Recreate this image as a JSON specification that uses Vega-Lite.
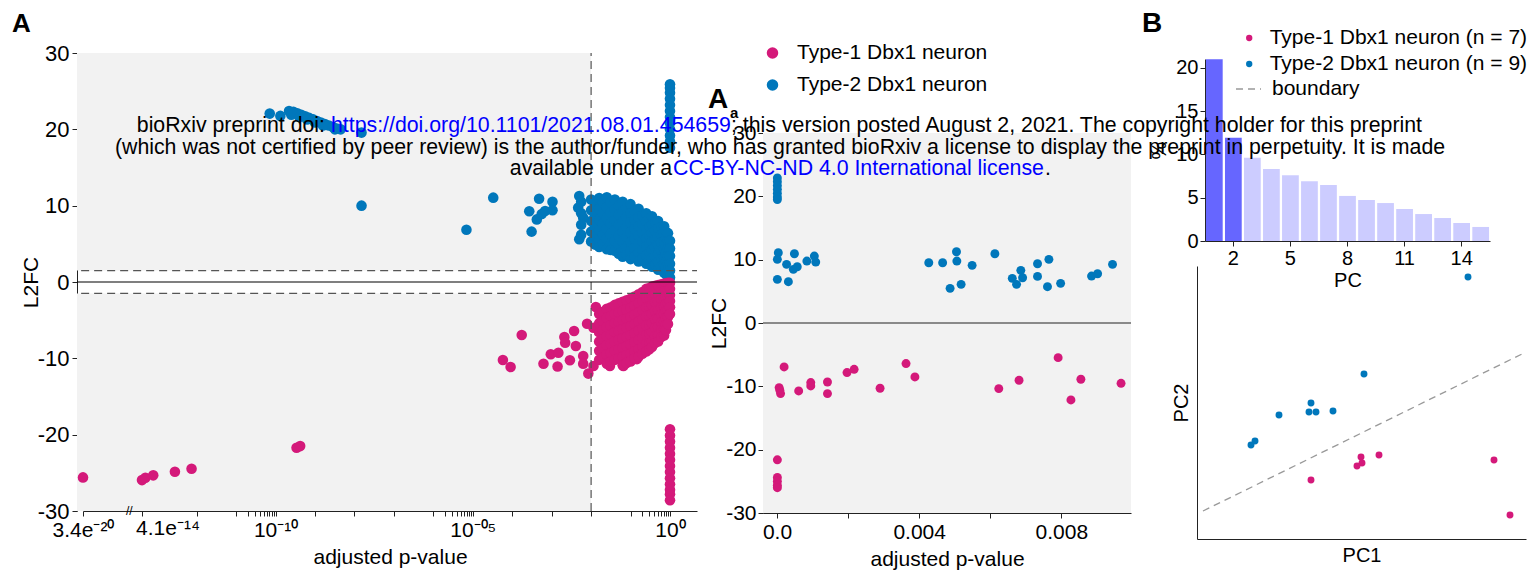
{
"$schema": "https://vega.github.io/schema/vega-lite/v6.json",
"background": "white",
"padding": {"left": 12, "top": 10, "right": 8, "bottom": 8},
"config": {
  "font": "Liberation Sans",
  "view": {"stroke": null},
  "axis": {"labelFontSize": 21, "titleFontSize": 21, "titleFontWeight": "normal", "labelColor": "#000", "titleColor": "#000", "domainColor": "#222", "tickColor": "#222", "grid": false, "tickSize": 5, "labelPadding": 2, "titlePadding": 6},
  "legend": {"labelFontSize": 21, "labelColor": "#000", "padding": 0, "labelLimit": 500},
  "title": {"fontSize": 26, "fontWeight": "bold", "color": "#000", "anchor": "start", "frame": "group", "baseline": "alphabetic"}
},
"bounds": "flush",
"spacing": 66,
"resolve": {"scale": {"color": "independent", "strokeDash": "independent"}, "legend": {"color": "independent", "strokeDash": "independent"}},
"hconcat": [
{
  "width": 620, "height": 458,
  "title": {"text": "A", "dx": -65, "offset": 5},
  "encoding": {
    "x": {"field": "p", "type": "quantitative",
      "scale": {"type": "log", "domain": [3.4e-20, 4.1e-14, 4.84], "range": [6, 65, 620], "nice": false},
      "axis": {"title": "adjusted p-value", "labelFlush": false, "labelOverlap": false, "labelBound": false, "labelFontSize": 21, "labelPadding": 3,
        "values": [3.4e-20, 4.1e-14, 1e-12, 1e-11, 2e-11, 3e-11, 4e-11, 5e-11, 6e-11, 7e-11, 8e-11, 9e-11, 1e-10, 1e-9, 1e-8, 1e-7, 1e-6, 2e-6, 3e-6, 4e-6, 5e-6, 6e-6, 7e-6, 8e-6, 9e-6, 1e-5, 1e-4, 1e-3, 1e-2, 0.1, 0.2, 0.3, 0.4, 0.5, 0.6, 0.7, 0.8, 0.9, 1],
        "labelExpr": "datum.value == 3.4e-20 ? '3.4e\u207b\u00b2\u2070' : datum.value == 1e-10 ? '10\u207b\u00b9\u2070' : datum.value == 1e-5 ? '10\u207b\u2070\u2075' : datum.value == 1 ? '10\u2070' : ''",
        "encode": {
          "ticks": {"update": {"y2": {"signal": "indexof([3.4e-20,4.1e-14,1e-10,1e-5,1], datum.value) >= 0 ? 6 : 3"}}}
        }
      }},
    "y": {"field": "l", "type": "quantitative",
      "scale": {"domain": [-30, 30], "nice": false, "zero": false},
      "axis": {"title": "L2FC", "values": [-30, -20, -10, 0, 10, 20, 30], "labelFontSize": 22, "labelPadding": 3, "titlePadding": -4,
        "labelExpr": "datum.value < 0 ? '-' + (-datum.value) : '' + datum.value"}}
  },
  "layer": [
    {"data": {"values": [{"p": 1e-21, "p2": 0.01, "l": 1.5, "l2": 30}, {"p": 1e-21, "p2": 0.01, "l": -30, "l2": -1.5}]},
     "mark": {"type": "rect", "color": "#f2f2f2", "clip": true},
     "encoding": {"x2": {"field": "p2"}, "y2": {"field": "l2"}}},
    {"data": {"values": [
      {"p":7.1e-11,"l":22.06,"g":2},{"p":1.32e-10,"l":21.76,"g":2},{"p":2.19e-10,"l":22.4,"g":2},{"p":2.5e-10,"l":21.9,"g":2},{"p":2.82e-10,"l":22.3,"g":2},{"p":3.55e-10,"l":22.1,"g":2},{"p":4.0e-10,"l":21.6,"g":2},{"p":4.47e-10,"l":21.9,"g":2},{"p":5.62e-10,"l":21.7,"g":2},{"p":6.3e-10,"l":21.3,"g":2},{"p":7.08e-10,"l":21.5,"g":2},{"p":8.91e-10,"l":21.3,"g":2},{"p":1.0e-9,"l":20.9,"g":2},{"p":1.12e-9,"l":21.1,"g":2},{"p":1.41e-9,"l":20.9,"g":2},{"p":1.6e-9,"l":20.5,"g":2},{"p":1.78e-9,"l":20.7,"g":2},{"p":2.24e-9,"l":20.5,"g":2},{"p":2.82e-9,"l":20.3,"g":2},{"p":3.2e-9,"l":20.0,"g":2},{"p":3.55e-9,"l":20.1,"g":2},{"p":4.47e-9,"l":20.0,"g":2},{"p":1.51e-8,"l":19.57,"g":2},
      {"p":1.51e-8,"l":10.0,"g":2},{"p":6.9e-6,"l":6.85,"g":2},{"p":3.3e-5,"l":11.05,"g":2},{"p":2.7e-4,"l":9.27,"g":2},{"p":3.1e-4,"l":6.6,"g":2},{"p":4.2e-4,"l":8.2,"g":2},{"p":5.6e-4,"l":8.9,"g":2},{"p":4.8e-4,"l":10.9,"g":2},{"p":6.8e-4,"l":9.3,"g":2},{"p":1.05e-3,"l":10.5,"g":2},{"p":1.05e-3,"l":9.4,"g":2},
      {"p":0.0047,"l":9.74,"g":2},{"p":0.005,"l":11.27,"g":2},{"p":0.005,"l":5.6,"g":2},{"p":0.0063,"l":8.43,"g":2},
      {"p":0.0056,"l":10.5,"g":2},{"p":0.0056,"l":9.0,"g":2},{"p":0.0056,"l":7.5,"g":2},{"p":0.0056,"l":6.2,"g":2},
      {"p":0.01,"l":10.8,"g":2},{"p":0.01,"l":9.4,"g":2},{"p":0.01,"l":8.0,"g":2},{"p":0.01,"l":6.6,"g":2},{"p":0.01,"l":5.3,"g":2},
      {"p":0.0126,"l":10.1,"g":2},{"p":0.0126,"l":8.7,"g":2},{"p":0.0126,"l":7.3,"g":2},{"p":0.0126,"l":5.9,"g":2},{"p":0.0126,"l":4.9,"g":2},
      {"p":0.016,"l":11.0,"g":2},{"p":0.016,"l":9.6,"g":2},{"p":0.016,"l":8.2,"g":2},{"p":0.016,"l":6.8,"g":2},{"p":0.016,"l":5.5,"g":2},{"p":0.016,"l":4.6,"g":2},
      {"p":0.02,"l":10.4,"g":2},{"p":0.02,"l":9.0,"g":2},{"p":0.02,"l":7.6,"g":2},{"p":0.02,"l":6.2,"g":2},{"p":0.02,"l":5.0,"g":2},
      {"p":0.025,"l":11.1,"g":2},{"p":0.025,"l":9.8,"g":2},{"p":0.025,"l":8.4,"g":2},{"p":0.025,"l":7.0,"g":2},{"p":0.025,"l":5.7,"g":2},{"p":0.025,"l":4.3,"g":2},
      {"p":0.0316,"l":10.4,"g":2},{"p":0.0316,"l":9.1,"g":2},{"p":0.0316,"l":7.7,"g":2},{"p":0.0316,"l":6.3,"g":2},{"p":0.0316,"l":5.0,"g":2},{"p":0.0316,"l":4.2,"g":2},
      {"p":0.04,"l":10.8,"g":2},{"p":0.04,"l":9.5,"g":2},{"p":0.04,"l":8.1,"g":2},{"p":0.04,"l":6.8,"g":2},{"p":0.04,"l":5.4,"g":2},{"p":0.04,"l":4.1,"g":2},
      {"p":0.05,"l":10.0,"g":2},{"p":0.05,"l":8.8,"g":2},{"p":0.05,"l":7.5,"g":2},{"p":0.05,"l":6.1,"g":2},{"p":0.05,"l":4.8,"g":2},{"p":0.05,"l":3.7,"g":2},
      {"p":0.063,"l":10.5,"g":2},{"p":0.063,"l":9.2,"g":2},{"p":0.063,"l":7.9,"g":2},{"p":0.063,"l":6.6,"g":2},{"p":0.063,"l":5.3,"g":2},{"p":0.063,"l":4.0,"g":2},{"p":0.063,"l":3.3,"g":2},
      {"p":0.079,"l":9.7,"g":2},{"p":0.079,"l":8.5,"g":2},{"p":0.079,"l":7.2,"g":2},{"p":0.079,"l":5.9,"g":2},{"p":0.079,"l":4.6,"g":2},{"p":0.079,"l":3.5,"g":2},
      {"p":0.1,"l":10.2,"g":2},{"p":0.1,"l":9.0,"g":2},{"p":0.1,"l":7.8,"g":2},{"p":0.1,"l":6.5,"g":2},{"p":0.1,"l":5.2,"g":2},{"p":0.1,"l":4.0,"g":2},{"p":0.1,"l":3.0,"g":2},
      {"p":0.126,"l":9.3,"g":2},{"p":0.126,"l":8.1,"g":2},{"p":0.126,"l":6.9,"g":2},{"p":0.126,"l":5.6,"g":2},{"p":0.126,"l":4.4,"g":2},{"p":0.126,"l":3.3,"g":2},
      {"p":0.16,"l":9.6,"g":2},{"p":0.16,"l":8.5,"g":2},{"p":0.16,"l":7.3,"g":2},{"p":0.16,"l":6.1,"g":2},{"p":0.16,"l":5.0,"g":2},{"p":0.16,"l":3.8,"g":2},{"p":0.16,"l":2.7,"g":2},
      {"p":0.2,"l":8.7,"g":2},{"p":0.2,"l":7.6,"g":2},{"p":0.2,"l":6.5,"g":2},{"p":0.2,"l":5.3,"g":2},{"p":0.2,"l":4.2,"g":2},{"p":0.2,"l":3.1,"g":2},
      {"p":0.25,"l":9.0,"g":2},{"p":0.25,"l":7.9,"g":2},{"p":0.25,"l":6.8,"g":2},{"p":0.25,"l":5.7,"g":2},{"p":0.25,"l":4.6,"g":2},{"p":0.25,"l":3.5,"g":2},{"p":0.25,"l":2.4,"g":2},
      {"p":0.3,"l":8.3,"g":2},{"p":0.3,"l":7.2,"g":2},{"p":0.3,"l":6.1,"g":2},{"p":0.3,"l":5.0,"g":2},{"p":0.3,"l":3.9,"g":2},{"p":0.3,"l":2.8,"g":2},
      {"p":0.35,"l":8.6,"g":2},{"p":0.35,"l":7.5,"g":2},{"p":0.35,"l":6.4,"g":2},{"p":0.35,"l":5.3,"g":2},{"p":0.35,"l":4.2,"g":2},{"p":0.35,"l":3.1,"g":2},{"p":0.35,"l":2.0,"g":2},
      {"p":0.42,"l":7.8,"g":2},{"p":0.42,"l":6.7,"g":2},{"p":0.42,"l":5.6,"g":2},{"p":0.42,"l":4.5,"g":2},{"p":0.42,"l":3.4,"g":2},{"p":0.42,"l":2.3,"g":2},
      {"p":0.5,"l":8.0,"g":2},{"p":0.5,"l":7.0,"g":2},{"p":0.5,"l":5.9,"g":2},{"p":0.5,"l":4.8,"g":2},{"p":0.5,"l":3.7,"g":2},{"p":0.5,"l":2.6,"g":2},{"p":0.5,"l":1.6,"g":2},
      {"p":0.6,"l":7.2,"g":2},{"p":0.6,"l":6.2,"g":2},{"p":0.6,"l":5.2,"g":2},{"p":0.6,"l":4.1,"g":2},{"p":0.6,"l":3.0,"g":2},{"p":0.6,"l":2.0,"g":2},
      {"p":0.71,"l":7.3,"g":2},{"p":0.71,"l":6.3,"g":2},{"p":0.71,"l":5.3,"g":2},{"p":0.71,"l":4.3,"g":2},{"p":0.71,"l":3.2,"g":2},{"p":0.71,"l":2.2,"g":2},{"p":0.71,"l":1.2,"g":2},
      {"p":0.79,"l":6.6,"g":2},{"p":0.79,"l":5.7,"g":2},{"p":0.79,"l":4.7,"g":2},{"p":0.79,"l":3.7,"g":2},{"p":0.79,"l":2.7,"g":2},{"p":0.79,"l":1.8,"g":2},{"p":0.79,"l":1.0,"g":2},
      {"p":0.89,"l":6.4,"g":2},{"p":0.89,"l":5.4,"g":2},{"p":0.89,"l":4.4,"g":2},{"p":0.89,"l":3.4,"g":2},{"p":0.89,"l":2.4,"g":2},{"p":0.89,"l":1.5,"g":2},{"p":0.89,"l":0.8,"g":2},
      {"p":1,"l":5.4,"g":2},{"p":1,"l":4.4,"g":2},{"p":1,"l":3.4,"g":2},{"p":1,"l":2.4,"g":2},{"p":1,"l":1.5,"g":2},{"p":1,"l":0.6,"g":2},
      {"p":1,"l":17.6,"g":2},{"p":1,"l":18.4,"g":2},{"p":1,"l":19.2,"g":2},{"p":1,"l":20.0,"g":2},{"p":1,"l":20.8,"g":2},{"p":1,"l":21.6,"g":2},{"p":1,"l":22.4,"g":2},{"p":1,"l":23.2,"g":2},{"p":1,"l":24.0,"g":2},{"p":1,"l":24.8,"g":2},{"p":1,"l":25.4,"g":2},{"p":1,"l":25.9,"g":2},
      {"p":3.4e-20,"l":-25.6,"g":1},{"p":4.1e-14,"l":-25.95,"g":1},{"p":5.0e-14,"l":-25.65,"g":1},{"p":7.9e-14,"l":-25.33,"g":1},{"p":2.8e-13,"l":-24.86,"g":1},{"p":7.4e-13,"l":-24.47,"g":1},{"p":3.4e-10,"l":-21.72,"g":1},{"p":4.2e-10,"l":-21.5,"g":1},
      {"p":5.8e-5,"l":-10.22,"g":1},{"p":9.1e-5,"l":-11.14,"g":1},{"p":1.74e-4,"l":-6.95,"g":1},{"p":6.2e-4,"l":-10.7,"g":1},{"p":9.5e-4,"l":-9.47,"g":1},{"p":1.48e-3,"l":-9.26,"g":1},{"p":1.41e-3,"l":-11.06,"g":1},{"p":2.1e-3,"l":-7.2,"g":1},{"p":2.2e-3,"l":-7.95,"g":1},{"p":2.9e-3,"l":-10.26,"g":1},{"p":3.7e-3,"l":-6.42,"g":1},{"p":4.1e-3,"l":-8.39,"g":1},{"p":6.3e-3,"l":-9.7,"g":1},{"p":6.3e-3,"l":-10.7,"g":1},{"p":7.9e-3,"l":-5.46,"g":1},{"p":8.5e-3,"l":-12.0,"g":1},{"p":0.0115,"l":-5.99,"g":1},{"p":0.0115,"l":-11.0,"g":1},{"p":0.0132,"l":-3.28,"g":1},{"p":0.024,"l":-5.0,"g":1},{"p":0.03,"l":-11.0,"g":1},{"p":0.049,"l":-5.0,"g":1},{"p":0.066,"l":-11.0,"g":1},{"p":0.145,"l":-10.1,"g":1},
      {"p":0.016,"l":-4.2,"g":1},{"p":0.016,"l":-5.4,"g":1},{"p":0.016,"l":-6.6,"g":1},{"p":0.016,"l":-7.8,"g":1},{"p":0.016,"l":-9.0,"g":1},{"p":0.016,"l":-10.2,"g":1},
      {"p":0.02,"l":-3.9,"g":1},{"p":0.02,"l":-5.1,"g":1},{"p":0.02,"l":-6.3,"g":1},{"p":0.02,"l":-7.5,"g":1},{"p":0.02,"l":-8.7,"g":1},{"p":0.02,"l":-9.9,"g":1},
      {"p":0.025,"l":-3.5,"g":1},{"p":0.025,"l":-4.7,"g":1},{"p":0.025,"l":-5.9,"g":1},{"p":0.025,"l":-7.1,"g":1},{"p":0.025,"l":-8.3,"g":1},{"p":0.025,"l":-9.5,"g":1},{"p":0.025,"l":-10.7,"g":1},
      {"p":0.0316,"l":-3.3,"g":1},{"p":0.0316,"l":-4.5,"g":1},{"p":0.0316,"l":-5.7,"g":1},{"p":0.0316,"l":-6.9,"g":1},{"p":0.0316,"l":-8.1,"g":1},{"p":0.0316,"l":-9.3,"g":1},{"p":0.0316,"l":-10.4,"g":1},
      {"p":0.04,"l":-3.0,"g":1},{"p":0.04,"l":-4.2,"g":1},{"p":0.04,"l":-5.4,"g":1},{"p":0.04,"l":-6.6,"g":1},{"p":0.04,"l":-7.8,"g":1},{"p":0.04,"l":-9.0,"g":1},{"p":0.04,"l":-10.2,"g":1},
      {"p":0.05,"l":-2.8,"g":1},{"p":0.05,"l":-4.0,"g":1},{"p":0.05,"l":-5.2,"g":1},{"p":0.05,"l":-6.4,"g":1},{"p":0.05,"l":-7.6,"g":1},{"p":0.05,"l":-8.8,"g":1},{"p":0.05,"l":-10.0,"g":1},
      {"p":0.063,"l":-2.6,"g":1},{"p":0.063,"l":-3.8,"g":1},{"p":0.063,"l":-5.0,"g":1},{"p":0.063,"l":-6.2,"g":1},{"p":0.063,"l":-7.4,"g":1},{"p":0.063,"l":-8.6,"g":1},{"p":0.063,"l":-9.8,"g":1},{"p":0.063,"l":-10.9,"g":1},
      {"p":0.079,"l":-2.4,"g":1},{"p":0.079,"l":-3.6,"g":1},{"p":0.079,"l":-4.8,"g":1},{"p":0.079,"l":-6.0,"g":1},{"p":0.079,"l":-7.2,"g":1},{"p":0.079,"l":-8.4,"g":1},{"p":0.079,"l":-9.6,"g":1},{"p":0.079,"l":-10.6,"g":1},
      {"p":0.1,"l":-2.2,"g":1},{"p":0.1,"l":-3.4,"g":1},{"p":0.1,"l":-4.6,"g":1},{"p":0.1,"l":-5.8,"g":1},{"p":0.1,"l":-7.0,"g":1},{"p":0.1,"l":-8.2,"g":1},{"p":0.1,"l":-9.4,"g":1},{"p":0.1,"l":-10.4,"g":1},
      {"p":0.126,"l":-1.9,"g":1},{"p":0.126,"l":-3.1,"g":1},{"p":0.126,"l":-4.3,"g":1},{"p":0.126,"l":-5.5,"g":1},{"p":0.126,"l":-6.7,"g":1},{"p":0.126,"l":-7.9,"g":1},{"p":0.126,"l":-9.1,"g":1},{"p":0.126,"l":-10.0,"g":1},
      {"p":0.16,"l":-1.6,"g":1},{"p":0.16,"l":-2.8,"g":1},{"p":0.16,"l":-4.0,"g":1},{"p":0.16,"l":-5.2,"g":1},{"p":0.16,"l":-6.4,"g":1},{"p":0.16,"l":-7.6,"g":1},{"p":0.16,"l":-8.8,"g":1},{"p":0.16,"l":-9.8,"g":1},
      {"p":0.2,"l":-1.3,"g":1},{"p":0.2,"l":-2.5,"g":1},{"p":0.2,"l":-3.7,"g":1},{"p":0.2,"l":-4.9,"g":1},{"p":0.2,"l":-6.1,"g":1},{"p":0.2,"l":-7.3,"g":1},{"p":0.2,"l":-8.5,"g":1},{"p":0.2,"l":-9.4,"g":1},
      {"p":0.25,"l":-0.9,"g":1},{"p":0.25,"l":-2.1,"g":1},{"p":0.25,"l":-3.3,"g":1},{"p":0.25,"l":-4.5,"g":1},{"p":0.25,"l":-5.7,"g":1},{"p":0.25,"l":-6.9,"g":1},{"p":0.25,"l":-8.1,"g":1},{"p":0.25,"l":-9.1,"g":1},
      {"p":0.3,"l":-0.8,"g":1},{"p":0.3,"l":-2.0,"g":1},{"p":0.3,"l":-3.2,"g":1},{"p":0.3,"l":-4.4,"g":1},{"p":0.3,"l":-5.6,"g":1},{"p":0.3,"l":-6.8,"g":1},{"p":0.3,"l":-8.0,"g":1},{"p":0.3,"l":-8.8,"g":1},
      {"p":0.35,"l":-0.6,"g":1},{"p":0.35,"l":-1.8,"g":1},{"p":0.35,"l":-3.0,"g":1},{"p":0.35,"l":-4.2,"g":1},{"p":0.35,"l":-5.4,"g":1},{"p":0.35,"l":-6.6,"g":1},{"p":0.35,"l":-7.8,"g":1},{"p":0.35,"l":-8.5,"g":1},
      {"p":0.42,"l":-0.5,"g":1},{"p":0.42,"l":-1.6,"g":1},{"p":0.42,"l":-2.7,"g":1},{"p":0.42,"l":-3.8,"g":1},{"p":0.42,"l":-4.9,"g":1},{"p":0.42,"l":-6.0,"g":1},{"p":0.42,"l":-7.1,"g":1},{"p":0.42,"l":-8.0,"g":1},
      {"p":0.5,"l":-0.4,"g":1},{"p":0.5,"l":-1.5,"g":1},{"p":0.5,"l":-2.6,"g":1},{"p":0.5,"l":-3.7,"g":1},{"p":0.5,"l":-4.8,"g":1},{"p":0.5,"l":-5.9,"g":1},{"p":0.5,"l":-7.0,"g":1},{"p":0.5,"l":-7.8,"g":1},
      {"p":0.6,"l":-0.3,"g":1},{"p":0.6,"l":-1.3,"g":1},{"p":0.6,"l":-2.3,"g":1},{"p":0.6,"l":-3.3,"g":1},{"p":0.6,"l":-4.3,"g":1},{"p":0.6,"l":-5.3,"g":1},{"p":0.6,"l":-6.3,"g":1},{"p":0.6,"l":-7.2,"g":1},
      {"p":0.71,"l":-0.2,"g":1},{"p":0.71,"l":-1.2,"g":1},{"p":0.71,"l":-2.2,"g":1},{"p":0.71,"l":-3.2,"g":1},{"p":0.71,"l":-4.2,"g":1},{"p":0.71,"l":-5.2,"g":1},{"p":0.71,"l":-6.2,"g":1},{"p":0.71,"l":-7.0,"g":1},
      {"p":0.79,"l":-0.2,"g":1},{"p":0.79,"l":-1.1,"g":1},{"p":0.79,"l":-2.0,"g":1},{"p":0.79,"l":-2.9,"g":1},{"p":0.79,"l":-3.8,"g":1},{"p":0.79,"l":-4.7,"g":1},{"p":0.79,"l":-5.6,"g":1},{"p":0.79,"l":-6.3,"g":1},
      {"p":0.89,"l":-0.1,"g":1},{"p":0.89,"l":-1.0,"g":1},{"p":0.89,"l":-1.9,"g":1},{"p":0.89,"l":-2.8,"g":1},{"p":0.89,"l":-3.7,"g":1},{"p":0.89,"l":-4.6,"g":1},{"p":0.89,"l":-5.5,"g":1},
      {"p":1,"l":-0.1,"g":1},{"p":1,"l":-0.9,"g":1},{"p":1,"l":-1.7,"g":1},{"p":1,"l":-2.5,"g":1},{"p":1,"l":-3.3,"g":1},{"p":1,"l":-4.2,"g":1},
      {"p":1,"l":-19.3,"g":1},{"p":1,"l":-20.1,"g":1},{"p":1,"l":-20.9,"g":1},{"p":1,"l":-21.7,"g":1},{"p":1,"l":-22.5,"g":1},{"p":1,"l":-23.3,"g":1},{"p":1,"l":-24.1,"g":1},{"p":1,"l":-24.9,"g":1},{"p":1,"l":-25.7,"g":1},{"p":1,"l":-26.5,"g":1},{"p":1,"l":-27.2,"g":1},{"p":1,"l":-27.8,"g":1},{"p":1,"l":-28.6,"g":1}
     ]},
     "mark": {"type": "point", "filled": true, "size": 112, "opacity": 1},
     "encoding": {"color": {"field": "g", "type": "nominal", "scale": {"domain": [1, 2], "range": ["#d4197a", "#0077bb"]}, "legend": null}}},
    {"data": {"values": [{"p": 1e-21, "p2": 100, "l": 1.5}, {"p": 1e-21, "p2": 100, "l": -1.5}]},
     "mark": {"type": "rule", "color": "#555555", "strokeDash": [8, 5], "strokeWidth": 1.2, "clip": true},
     "encoding": {"x2": {"field": "p2"}}},
    {"data": {"values": [{"p": 0.01, "l": -30, "l2": 30}]},
     "mark": {"type": "rule", "color": "#555555", "strokeDash": [8, 5], "strokeWidth": 1.2},
     "encoding": {"y2": {"field": "l2"}}},
    {"data": {"values": [{"p": 1e-21, "p2": 100, "l": 0}]},
     "mark": {"type": "rule", "color": "#000000", "strokeWidth": 1.2, "clip": true},
     "encoding": {"x2": {"field": "p2"}}},
    {"data": {"values": [{"p": 2e-15, "l": -30, "t": "//"}]},
     "mark": {"type": "text", "fontSize": 12, "baseline": "middle"},
     "encoding": {"text": {"field": "t"}}},
    {"data": {"values": [{"p": 1.87e-13, "l": -32.4, "t": "4.1e\u207b\u00b9\u2074"}]},
     "mark": {"type": "text", "fontSize": 21, "baseline": "middle", "align": "center", "color": "#000000"},
     "encoding": {"text": {"field": "t"}}}
  ]
},
{
  "width": 368, "height": 460,
  "encoding": {
    "x": {"field": "p", "type": "quantitative",
      "scale": {"domain": [-0.000394, 0.00996], "nice": false, "zero": false},
      "axis": {"title": "adjusted p-value", "values": [0, 0.002, 0.004, 0.006, 0.008, 0.01], "labelFlush": false, "labelOverlap": false, "labelPadding": 3,
        "labelExpr": "datum.value == 0 ? '0.0' : datum.value == 0.004 ? '0.004' : datum.value == 0.008 ? '0.008' : ''"}},
    "y": {"field": "l", "type": "quantitative",
      "scale": {"domain": [-30, 30], "range": [460, 80], "nice": false, "zero": false},
      "axis": {"title": "L2FC", "values": [-30, -20, -10, 0, 10, 20, 30], "titlePadding": -4,
        "labelExpr": "datum.value < 0 ? '-' + (-datum.value) : '' + datum.value"}}
  },
  "layer": [
    {"data": {"values": [{"p": -1, "p2": 1, "l": -30, "l2": 30}]},
     "mark": {"type": "rect", "color": "#f2f2f2", "clip": true},
     "encoding": {"x2": {"field": "p2"}, "y2": {"field": "l2"}}},
    {"data": {"values": [{"p": -1, "p2": 1, "l": 0}]},
     "mark": {"type": "rule", "color": "#222222", "strokeWidth": 1.2, "clip": true},
     "encoding": {"x2": {"field": "p2"}}},
    {"data": {"values": [
      {"p":0.00001,"l":22.9,"g":2},{"p":0.00001,"l":22.3,"g":2},{"p":0.00001,"l":21.7,"g":2},{"p":0.00001,"l":21.1,"g":2},{"p":0.00001,"l":20.5,"g":2},{"p":0.00001,"l":19.9,"g":2},{"p":0.00001,"l":19.5,"g":2},
      {"p":0.0000366,"l":11.09,"g":2},{"p":0.00001,"l":10.05,"g":2},{"p":0.00049,"l":10.93,"g":2},{"p":0.00027,"l":9.26,"g":2},{"p":0.00046,"l":8.47,"g":2},{"p":0.00057,"l":8.88,"g":2},{"p":0.00001,"l":6.89,"g":2},{"p":0.00032,"l":6.52,"g":2},{"p":0.00084,"l":9.78,"g":2},{"p":0.00105,"l":10.57,"g":2},{"p":0.00109,"l":9.62,"g":2},
      {"p":0.00427,"l":9.51,"g":2},{"p":0.00466,"l":9.51,"g":2},{"p":0.00505,"l":11.25,"g":2},{"p":0.00506,"l":9.78,"g":2},{"p":0.00549,"l":9.1,"g":2},{"p":0.00487,"l":5.47,"g":2},{"p":0.00518,"l":6.1,"g":2},{"p":0.00613,"l":10.93,"g":2},{"p":0.00662,"l":7.05,"g":2},{"p":0.00674,"l":6.1,"g":2},{"p":0.00686,"l":8.31,"g":2},{"p":0.00691,"l":7.14,"g":2},{"p":0.00733,"l":9.35,"g":2},{"p":0.00733,"l":7.36,"g":2},{"p":0.00765,"l":10.05,"g":2},{"p":0.00761,"l":5.73,"g":2},{"p":0.00798,"l":6.26,"g":2},{"p":0.00885,"l":7.41,"g":2},{"p":0.00902,"l":7.78,"g":2},{"p":0.00944,"l":9.26,"g":2},
      {"p":0.00001,"l":-21.6,"g":1},{"p":0.00001,"l":-24.4,"g":1},{"p":0.00001,"l":-25.0,"g":1},{"p":0.00001,"l":-25.6,"g":1},{"p":0.00001,"l":-26.0,"g":1},{"p":0.0002,"l":-6.94,"g":1},{"p":0.00006,"l":-10.2,"g":1},{"p":0.0001,"l":-11.15,"g":1},{"p":0.00008,"l":-10.6,"g":1},{"p":0.00061,"l":-10.73,"g":1},{"p":0.00095,"l":-9.41,"g":1},{"p":0.00095,"l":-9.94,"g":1},{"p":0.00142,"l":-9.31,"g":1},{"p":0.00142,"l":-11.15,"g":1},{"p":0.00197,"l":-7.83,"g":1},{"p":0.00217,"l":-7.31,"g":1},{"p":0.0029,"l":-10.3,"g":1},{"p":0.00363,"l":-6.41,"g":1},{"p":0.00388,"l":-8.52,"g":1},{"p":0.00624,"l":-10.36,"g":1},{"p":0.00681,"l":-9.04,"g":1},{"p":0.00791,"l":-5.47,"g":1},{"p":0.00827,"l":-12.15,"g":1},{"p":0.00855,"l":-8.88,"g":1},{"p":0.00968,"l":-9.52,"g":1}
     ]},
     "mark": {"type": "point", "filled": true, "size": 80, "opacity": 1},
     "encoding": {"color": {"field": "g", "type": "nominal", "scale": {"domain": [1, 2], "range": ["#d4197a", "#0077bb"]},
       "legend": {"orient": "none", "legendX": -1, "legendY": -10.5, "title": null, "symbolType": "circle", "symbolSize": 133, "labelOffset": 14, "rowPadding": 10, "labelFontSize": 21,
         "labelExpr": "'Type-' + datum.label + ' Dbx1 neuron'"}}}},
    {"data": {"values": [{"p": -0.001941, "l": 33.95, "t": "A"}]},
     "mark": {"type": "text", "fontSize": 28, "fontWeight": "bold", "align": "left", "baseline": "alphabetic"},
     "encoding": {"text": {"field": "t"}}},
    {"data": {"values": [{"p": -0.001322, "l": 32.37, "t": "a"}]},
     "mark": {"type": "text", "fontSize": 15, "fontWeight": "bold", "align": "left", "baseline": "alphabetic"},
     "encoding": {"text": {"field": "t"}}}
  ]
},
{
  "bounds": "flush",
  "spacing": 25,
  "vconcat": [
    {
      "width": 293, "height": 188,
      "title": {"text": "B", "dx": -55, "offset": 15, "fontSize": 28},
      "data": {"values": [{"pc":1,"v":20.96},{"pc":2,"v":11.9},{"pc":3,"v":9.6},{"pc":4,"v":8.3},{"pc":5,"v":7.6},{"pc":6,"v":6.9},{"pc":7,"v":6.46},{"pc":8,"v":5.2},{"pc":9,"v":4.73},{"pc":10,"v":4.38},{"pc":11,"v":3.69},{"pc":12,"v":3.11},{"pc":13,"v":2.65},{"pc":14,"v":2.08},{"pc":15,"v":1.62}]},
      "mark": {"type": "bar"},
      "encoding": {
        "x": {"field": "pc", "type": "ordinal", "scale": {"range": [8, 293], "paddingInner": 0.12, "paddingOuter": 0.05},
          "axis": {"values": [2, 5, 8, 11, 14], "labelAngle": 0, "title": "PC", "titlePadding": 2, "labelFontSize": 20, "titleFontSize": 20}},
        "y": {"field": "v", "type": "quantitative", "scale": {"domain": [0, 21], "range": [188, 6], "nice": false, "zero": false},
          "axis": {"values": [0, 5, 10, 15, 20], "title": "%", "offset": -8, "labelFontSize": 20, "titleFontSize": 20}},
        "color": {"condition": {"test": "datum.pc <= 2", "value": "#6666ff"}, "value": "#ccccff"}
      }
    },
    {
      "width": 329, "height": 273,
      "encoding": {
        "x": {"field": "x", "type": "quantitative", "scale": {"domain": [0, 32.9], "nice": false, "zero": false},
          "axis": {"title": "PC1", "ticks": false, "labels": false, "titlePadding": 6, "titleFontSize": 20}},
        "y": {"field": "y", "type": "quantitative", "scale": {"domain": [0, 27.3], "nice": false, "zero": false},
          "axis": {"title": "PC2", "ticks": false, "labels": false, "titlePadding": 6, "titleFontSize": 20}}
      },
      "layer": [
        {"data": {"values": [{"x": 0.6, "y": 2.8}, {"x": 32.9, "y": 18.7}]},
         "mark": {"type": "line", "color": "#999999", "strokeWidth": 1.3},
         "encoding": {"strokeDash": {"datum": "boundary", "type": "nominal", "scale": {"domain": ["boundary"], "range": [[7, 5]]},
           "legend": {"orient": "none", "legendX": 38, "legendY": 22.5, "title": null, "symbolStrokeColor": "#999999", "symbolSize": 625, "symbolStrokeWidth": 1.5, "labelOffset": 10, "labelFontSize": 21}}}},
        {"data": {"values": [
          {"x":27.1,"y":26.2,"g":2},{"x":16.7,"y":16.5,"g":2},{"x":11.4,"y":13.6,"g":2},{"x":11.2,"y":12.7,"g":2},{"x":11.9,"y":12.7,"g":2},{"x":13.6,"y":12.8,"g":2},{"x":8.2,"y":12.4,"g":2},{"x":5.4,"y":9.4,"g":2},{"x":5.8,"y":9.8,"g":2},
          {"x":18.2,"y":8.4,"g":1},{"x":16.4,"y":8.2,"g":1},{"x":16.5,"y":7.6,"g":1},{"x":16.0,"y":7.3,"g":1},{"x":11.4,"y":5.9,"g":1},{"x":29.7,"y":7.9,"g":1},{"x":31.3,"y":2.4,"g":1}
         ]},
         "mark": {"type": "point", "filled": true, "size": 48, "opacity": 1},
         "encoding": {"color": {"field": "g", "type": "nominal", "scale": {"domain": [1, 2], "range": ["#d4197a", "#0077bb"]},
           "legend": {"orient": "none", "legendX": 41.7, "legendY": -25.5, "title": null, "symbolType": "circle", "symbolSize": 40, "labelOffset": 10, "rowPadding": 4, "labelFontSize": 21,
             "labelExpr": "datum.label == '1' ? 'Type-1 Dbx1 neuron (n = 7)' : 'Type-2 Dbx1 neuron (n = 9)'"}}}},
        {"data": {"values": [{"x": -87.2, "y": 40.75, "t": "bioRxiv preprint doi:"}, {"x": -52.5, "y": 36.4, "t": "available under a"}]},
         "mark": {"type": "text", "align": "right", "baseline": "alphabetic", "fontSize": 21.3, "color": "#000000"},
         "encoding": {"text": {"field": "t"}}},
        {"data": {"values": [{"x": -86.6, "y": 40.75, "t": "https://doi.org/10.1101/2021.08.01.454659"}, {"x": -52.4, "y": 36.4, "t": "CC-BY-NC-ND 4.0 International license"}]},
         "mark": {"type": "text", "align": "left", "baseline": "alphabetic", "fontSize": 21.3, "color": "#0000ff"},
         "encoding": {"text": {"field": "t"}}},
        {"data": {"values": [{"x": -46.6, "y": 40.75, "t": "; this version posted August 2, 2021. The copyright holder for this preprint"}, {"x": -15.2, "y": 36.4, "t": "."}]},
         "mark": {"type": "text", "align": "left", "baseline": "alphabetic", "fontSize": 21.3, "color": "#000000"},
         "encoding": {"text": {"field": "t"}}},
        {"data": {"values": [{"x": -41.7, "y": 38.55, "t": "(which was not certified by peer review) is the author/funder, who has granted bioRxiv a license to display the preprint in perpetuity. It is made"}]},
         "mark": {"type": "text", "align": "center", "baseline": "alphabetic", "fontSize": 21.3, "color": "#000000"},
         "encoding": {"text": {"field": "t"}}}
      ]
    }
  ]
}
]
}
